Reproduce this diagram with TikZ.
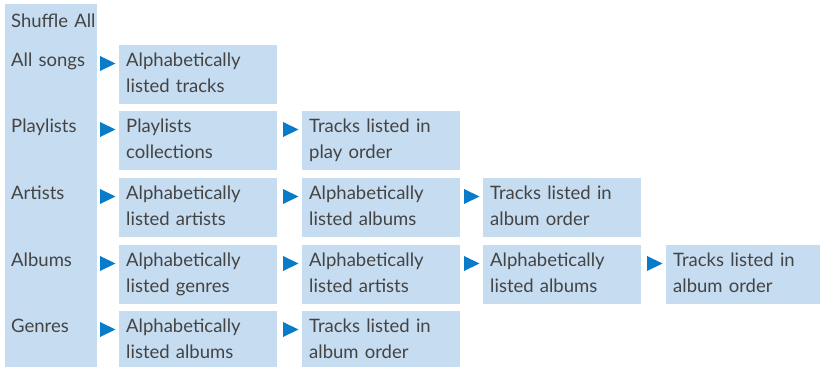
\documentclass[tikz,border=0pt]{standalone}
\usepackage{fontspec}
\setmainfont{Lato}
\definecolor{boxblue}{RGB}{198,220,240}
\definecolor{arrowblue}{RGB}{8,124,200}
\definecolor{txtgray}{RGB}{68,68,68}
\tikzset{
  panel/.style={fill=boxblue, draw=none, inner sep=0pt, anchor=north west},
  cell/.style={panel, minimum width=158pt, minimum height=59pt},
  txt/.style={anchor=base west, inner sep=0pt, text=txtgray, text width=150pt, align=left,
    font=\fontsize{18.5}{26}\selectfont},
}
\newcommand{\tri}[1]{\fill[arrowblue] ([xshift=-19pt,yshift=-11pt]#1.north west) -- ++(15.5pt,-7.5pt) -- ++(-15.5pt,-7.5pt) -- cycle;}
\begin{document}
\begin{tikzpicture}[x=1pt,y=-1pt]
\useasboundingbox (0,0) rectangle (820,367);
% left column
\node[panel, minimum width=92pt, minimum height=363pt] (col) at (5,4) {};
\node[txt] (shuffle) at (11,27) {Shuffle All};
\node[txt] (lsongs) at (11,66) {All songs};
\node[txt] (lplay) at (11,132) {Playlists};
\node[txt] (lart) at (11,199) {Artists};
\node[txt] (lalb) at (11,266) {Albums};
\node[txt] (lgen) at (11,332) {Genres};
% row 1
\node[cell] (a1) at (119,45) {};
\node[txt] at ([xshift=7pt,yshift=-21pt]a1.north west) {Alphabetically\\listed tracks};
% row 2
\node[cell] (b1) at (119,111) {};
\node[txt] at ([xshift=7pt,yshift=-21pt]b1.north west) {Playlists\\collections};
\node[cell] (b2) at (302,111) {};
\node[txt] at ([xshift=7pt,yshift=-21pt]b2.north west) {Tracks listed in\\play order};
% row 3
\node[cell] (c1) at (119,178) {};
\node[txt] at ([xshift=7pt,yshift=-21pt]c1.north west) {Alphabetically\\listed artists};
\node[cell] (c2) at (302,178) {};
\node[txt] at ([xshift=7pt,yshift=-21pt]c2.north west) {Alphabetically\\listed albums};
\node[cell] (c3) at (483,178) {};
\node[txt] at ([xshift=7pt,yshift=-21pt]c3.north west) {Tracks listed in\\album order};
% row 4
\node[cell] (d1) at (119,245) {};
\node[txt] at ([xshift=7pt,yshift=-21pt]d1.north west) {Alphabetically\\listed genres};
\node[cell] (d2) at (302,245) {};
\node[txt] at ([xshift=7pt,yshift=-21pt]d2.north west) {Alphabetically\\listed artists};
\node[cell] (d3) at (483,245) {};
\node[txt] at ([xshift=7pt,yshift=-21pt]d3.north west) {Alphabetically\\listed albums};
\node[cell, minimum width=154pt] (d4) at (666,245) {};
\node[txt] at ([xshift=7pt,yshift=-21pt]d4.north west) {Tracks listed in\\album order};
% row 5
\node[cell, minimum height=56pt] (e1) at (119,311) {};
\node[txt] at ([xshift=7pt,yshift=-21pt]e1.north west) {Alphabetically\\listed albums};
\node[cell, minimum height=56pt] (e2) at (302,311) {};
\node[txt] at ([xshift=7pt,yshift=-21pt]e2.north west) {Tracks listed in\\album order};
% arrows
\tri{a1}
\tri{b1}\tri{b2}
\tri{c1}\tri{c2}\tri{c3}
\tri{d1}\tri{d2}\tri{d3}\tri{d4}
\tri{e1}\tri{e2}
\end{tikzpicture}
\end{document}
